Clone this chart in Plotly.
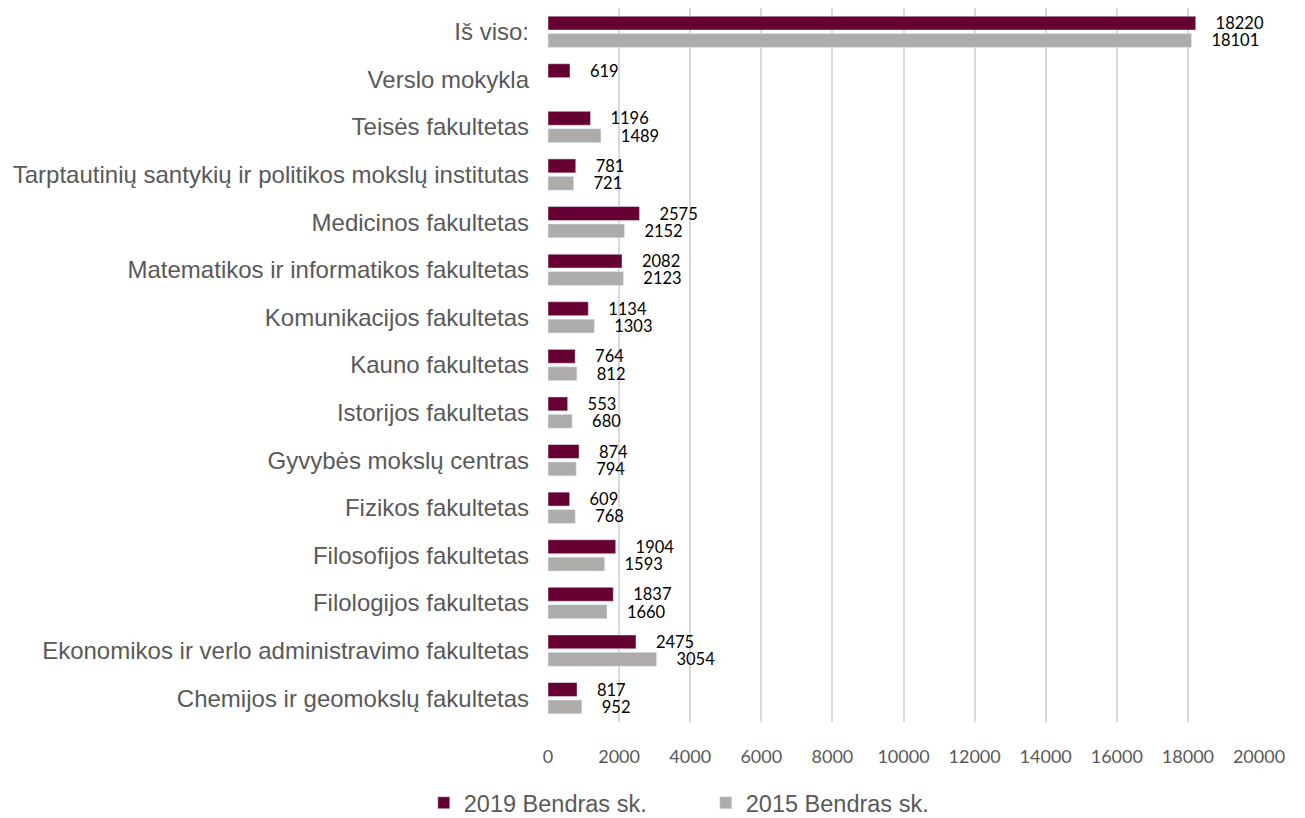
import plotly.graph_objects as go

# categories listed top to bottom
categories = [
    "Iš viso:",
    "Verslo mokykla",
    "Teisės fakultetas",
    "Tarptautinių santykių ir politikos mokslų institutas",
    "Medicinos fakultetas",
    "Matematikos ir informatikos fakultetas",
    "Komunikacijos fakultetas",
    "Kauno fakultetas",
    "Istorijos fakultetas",
    "Gyvybės mokslų centras",
    "Fizikos fakultetas",
    "Filosofijos fakultetas",
    "Filologijos fakultetas",
    "Ekonomikos ir verlo administravimo fakultetas",
    "Chemijos ir geomokslų fakultetas",
]
values_2019 = [18220, 619, 1196, 781, 2575, 2082, 1134, 764, 553, 874, 609, 1904, 1837, 2475, 817]
values_2015 = [18101, None, 1489, 721, 2152, 2123, 1303, 812, 680, 794, 768, 1593, 1660, 3054, 952]
x_ticks = list(range(0, 20001, 2000))

TEXT = "#595959"
ARIAL = "Arial, Liberation Sans, sans-serif"
NUM_FONT = "Lato, Open Sans, sans-serif"
LABEL_FONT = dict(family=NUM_FONT, size=16.5, color="#000000")

fig = go.Figure()
fig.add_trace(go.Bar(
    name="2019 Bendras sk.", y=categories, x=values_2019, orientation="h",
    marker=dict(color="#660033"),
    texttemplate="    %{x:d}", textposition="outside", constraintext="none",
    textfont=LABEL_FONT, cliponaxis=False,
))
fig.add_trace(go.Bar(
    name="2015 Bendras sk.", y=categories, x=values_2015, orientation="h",
    marker=dict(color="#AEABAB"),
    texttemplate="    %{x:d}", textposition="outside", constraintext="none",
    textfont=LABEL_FONT, cliponaxis=False,
))

# the page body has an 8px margin, so the figure is sized to the remaining view
fig.update_layout(
    width=1297, height=810,
    barmode="group", bargap=0.27, bargroupgap=0.2,
    plot_bgcolor="white", paper_bgcolor="white",
    margin=dict(l=540, r=46, t=0, b=96),
    font=dict(family=ARIAL, color=TEXT),
    legend=dict(
        orientation="h", xref="container", yref="container",
        x=0.538, xanchor="center", y=0.0185, yanchor="middle",
        font=dict(size=23.5, color=TEXT, family=ARIAL), traceorder="normal",
        itemwidth=30, entrywidth=237,
    ),
    xaxis=dict(
        range=[0, 20000], tickvals=x_ticks, tickformat="d", showgrid=True,
        gridcolor="#D9D9D9", gridwidth=2, zeroline=False, automargin=False,
        tickfont=dict(size=18, color=TEXT, family=NUM_FONT), ticklabelstandoff=22,
    ),
    yaxis=dict(
        autorange="reversed", showgrid=False, ticks="", automargin=False,
        tickfont=dict(size=24, color=TEXT, family=ARIAL), ticklabelstandoff=18,
    ),
)

fig.write_html("out.html")
